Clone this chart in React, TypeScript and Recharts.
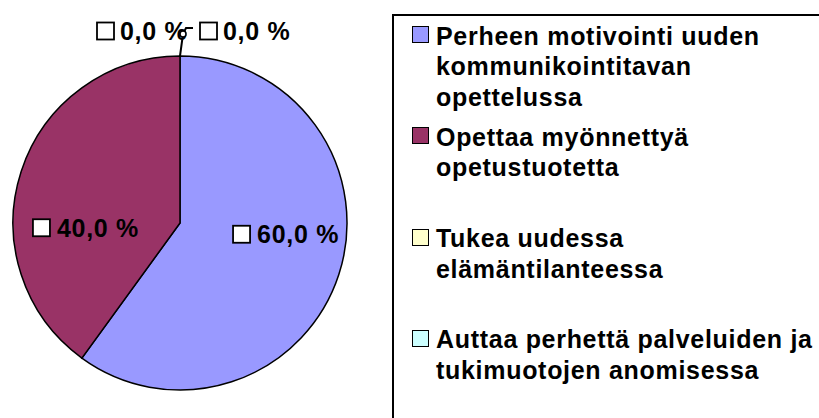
import React from 'react';
import { PieChart, Pie, Cell, Legend } from 'recharts';

const categories = [
  'Perheen motivointi uuden\nkommunikointitavan\nopettelussa',
  'Opettaa myönnettyä\nopetustuotetta',
  'Tukea uudessa\nelämäntilanteessa',
  'Auttaa perhettä palveluiden ja\ntukimuotojen anomisessa',
];
const shares = [60, 40, 0, 0];
const valueLabels = ['60,0 %', '40,0 %', '0,0 %', '0,0 %'];
const colors = ['#9999FF', '#993366', '#FFFFCC', '#CCFFFF'];

const data = categories.map((name, i) => ({ name, value: shares[i] }));

const FONT = '"Liberation Sans", Arial, sans-serif';
const RAD = Math.PI / 180;

const renderLabel = (props: any) => {
  const { cx, cy, midAngle, outerRadius, index } = props;
  const txt = valueLabels[index];
  const textStyle = { fontFamily: FONT, fontWeight: 700, fontSize: 25, letterSpacing: 0.7 };

  if (shares[index] === 0) {
    const top = cy - outerRadius;
    const ly = top - 25;
    if (index === 2) {
      return (
        <g key={`lab-${index}`}>
          <rect x={cx - 83} y={ly - 8.5} width={17} height={17} fill="#fff" stroke="#000" strokeWidth={1.8} />
          <text x={cx - 60} y={ly + 9} textAnchor="start" fill="#000" style={textStyle}>{txt}</text>
        </g>
      );
    }
    return (
      <g key={`lab-${index}`}>
        <polyline
          points={`${cx},${top} ${cx + 3},${top - 22} ${cx + 6},${top - 28} ${cx + 13},${top - 28}`}
          fill="none"
          stroke="#000"
          strokeWidth={2}
        />
        <circle cx={cx + 3} cy={top - 22} r={3} fill="#fff" stroke="#000" strokeWidth={1.5} />
        <rect x={cx + 20} y={ly - 8.5} width={17} height={17} fill="#fff" stroke="#000" strokeWidth={1.8} />
        <text x={cx + 43} y={ly + 9} textAnchor="start" fill="#000" style={textStyle}>{txt}</text>
      </g>
    );
  }

  const r = outerRadius * 0.63;
  const mx = cx + r * Math.cos(-midAngle * RAD);
  const my = cy + r * Math.sin(-midAngle * RAD) * 0.1 + 8;
  return (
    <g key={`lab-${index}`}>
      <rect x={mx - 47} y={my - 8.5} width={17} height={17} fill="#fff" stroke="#000" strokeWidth={1.8} />
      <text x={mx - 23} y={my + 9} textAnchor="start" fill="#000" style={textStyle}>{txt}</text>
    </g>
  );
};

const renderLegend = () => (
  <div
    style={{
      width: 440,
      height: 420,
      borderLeft: '2px solid #000',
      borderTop: '2px solid #000',
      borderRight: '2px solid #000',
      boxSizing: 'border-box',
      position: 'relative',
      background: '#fff',
      fontFamily: FONT,
      fontWeight: 700,
      fontSize: 25,
      letterSpacing: 0.7,
      color: '#000',
    }}
  >
    {categories.map((name, i) => (
      <div key={name} style={{ position: 'absolute', left: 0, top: 4.5 + i * 101.3 }}>
        <div
          style={{
            position: 'absolute',
            left: 18,
            top: 5.5,
            width: 17,
            height: 17,
            boxSizing: 'border-box',
            border: '1.8px solid #000',
            background: colors[i],
          }}
        />
        <div style={{ position: 'absolute', left: 42, top: 0, whiteSpace: 'pre', lineHeight: '30.5px' }}>{name}</div>
      </div>
    ))}
  </div>
);

export default function App() {
  return (
    <div style={{ position: 'absolute', left: 0, top: 0, width: 819, height: 418, background: '#fff', overflow: 'hidden' }}>
      <PieChart width={819} height={418} margin={{ top: 0, right: 0, bottom: 0, left: 0 }}>
        <Pie
          data={data}
          dataKey="value"
          nameKey="name"
          cx={180}
          cy={223}
          outerRadius={167}
          startAngle={90}
          endAngle={-270}
          stroke="#000"
          strokeWidth={1.5}
          label={renderLabel}
          labelLine={false}
          isAnimationActive={false}
        >
          {data.map((d, i) => (
            <Cell key={d.name} fill={colors[i]} />
          ))}
        </Pie>
        <Legend
          content={renderLegend}
          wrapperStyle={{ position: 'absolute', left: 392, top: 14, width: 440, height: 420 }}
        />
      </PieChart>
    </div>
  );
}
